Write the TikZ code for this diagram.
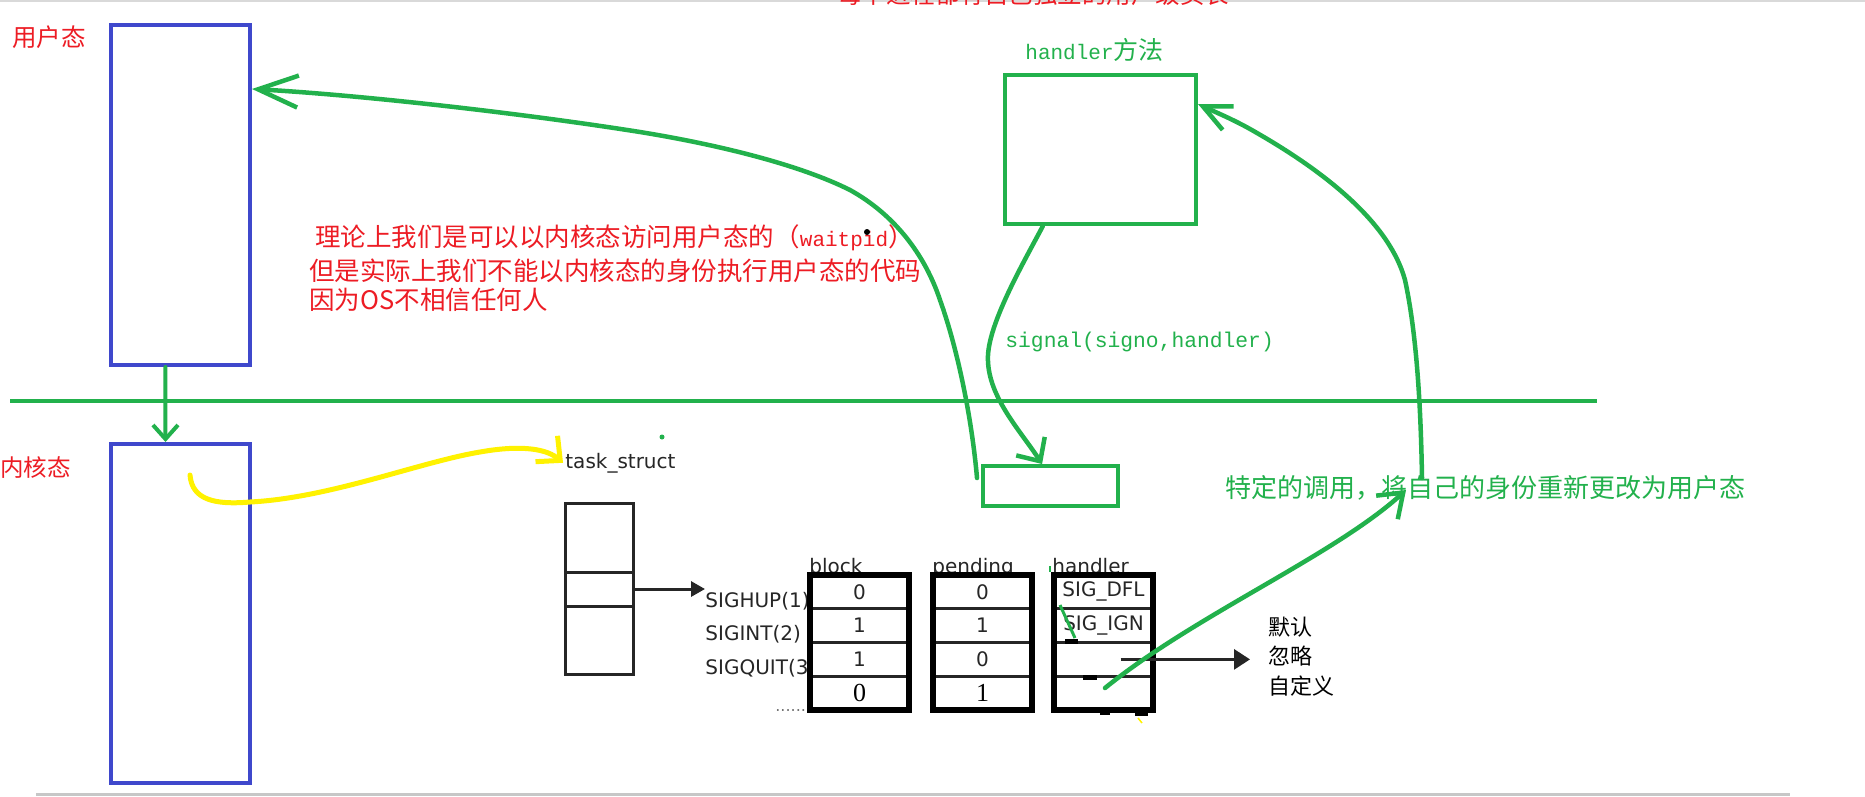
\documentclass[tikz,border=0pt]{standalone}
\usepackage{fontspec}
\setmainfont{DejaVu Sans}
\newfontfamily\cjk{Noto Sans CJK SC}
\newfontfamily\mono{Liberation Mono}
\newfontfamily\tms{Liberation Serif}
\usetikzlibrary{arrows.meta,positioning}

\definecolor{paintgreen}{RGB}{34,177,76}
\definecolor{paintblue}{RGB}{63,72,204}
\definecolor{paintred}{RGB}{237,28,36}
\definecolor{paintyellow}{RGB}{255,242,0}

\begin{document}
\begin{tikzpicture}[x=1pt, y=-1pt, thick]
    % Styles
    \tikzstyle{modebox} = [rectangle, draw=paintblue, line width=4pt, minimum width=139pt, inner sep=0pt]
    \tikzstyle{gbox} = [rectangle, draw=paintgreen, line width=4pt, inner sep=0pt]
    \tikzstyle{redtxt} = [text=paintred, inner sep=0pt, anchor=base west]
    \tikzstyle{greentxt} = [text=paintgreen, inner sep=0pt, anchor=base west]
    \tikzstyle{ostxt} = [text=black!85, inner sep=0pt, anchor=base west, font=\fontsize{20}{24}\selectfont]
    \tikzstyle{cell} = [rectangle, draw=black!85, fill=white, line width=3pt, minimum width=99pt, minimum height=33.75pt, inner sep=0pt, outer sep=0pt, text=black!85, font=\fontsize{20}{24}\selectfont]
    \tikzstyle{lastcell} = [cell, font=\tms\fontsize{26}{30}\selectfont, text=black]
    \tikzstyle{tcell} = [rectangle, draw=black!85, line width=3pt, minimum width=68pt, inner sep=0pt, outer sep=0pt]
    \tikzstyle{frame} = [draw=black, line width=5.5pt]
    \tikzstyle{opt} = [text=black, inner sep=0pt, font=\cjk\fontsize{22}{26}\selectfont, text height=17pt, text depth=3pt]
    \tikzstyle{garrow} = [draw=paintgreen, line width=4.5pt, line cap=round]
    \tikzstyle{yarrow} = [draw=paintyellow, line width=5pt, line cap=round]
    \tikzstyle{karrow} = [draw=black!85, line width=3pt]

    % Screen
    \useasboundingbox (0,0) rectangle (1865,796);
    \fill[white] (0,0) rectangle (1865,796);
    \fill[black!15] (0,0) rectangle (1865,1.5);
    \fill[black!22] (36,793) rectangle (1790,796);

    % Title (cut off at the top)
    \node[redtxt, font=\cjk\fontsize{24.5}{28}\selectfont] (title) at (837,3) {每个进程都有自己独立的用户级页表};

    % User mode and kernel mode
    \node[redtxt, font=\cjk\fontsize{24.5}{28}\selectfont] (ulabel) at (12,46) {用户态};
    \node[modebox, minimum height=340pt] (user) at (180.5,195) {};
    \node[redtxt, font=\cjk\fontsize{23.5}{28}\selectfont] (klabel) at (0,476) {内核态};
    \node[modebox, minimum height=339pt] (kernel) at (180.5,613.5) {};
    \draw[paintgreen, line width=4pt] (10,401) -- (1597,401);
    \draw[garrow, line width=4pt, -{Straight Barb[length=14pt, width=25pt]}] (user.265) -- (kernel.95);

    % Notes
    \node[redtxt, font=\cjk\fontsize{25.5}{30}\selectfont] (note1) at (315,246) {理论上我们是可以以内核态访问用户态的（{\mono\fontsize{21}{24}\selectfont waitpid}）};
    \node[redtxt, font=\cjk\fontsize{25.5}{30}\selectfont] (note2) at (309,280) {但是实际上我们不能以内核态的身份执行用户态的代码};
    \node[redtxt, font=\cjk\fontsize{25.5}{30}\selectfont] (note3) at (309,309) {因为OS不相信任何人};
    \fill[black] (867,232) circle (3pt);
    \fill[paintgreen] (662,437) circle (2.5pt);

    % Handler in user mode
    \node[greentxt, font=\cjk\fontsize{25}{28}\selectfont] (hlabel) at (1025,59) {{\mono\fontsize{21}{24}\selectfont handler}方法};
    \node[gbox, minimum width=191pt, minimum height=149pt] (hbox) at (1100.5,149.5) {};
    \node[greentxt, font=\mono\fontsize{21.3}{24}\selectfont] (signal) at (1005,347) {signal(signo,handler)};
    \node[gbox, minimum width=135pt, minimum height=40pt] (sbox) at (1050.5,486) {};
    \node[greentxt, font=\cjk\fontsize{26}{30}\selectfont] (back) at (1225,497) {特定的调用，将自己的身份重新更改为用户态};

    % task_struct
    \node[ostxt, inner sep=2pt] (ts) at (563,468) {task\_struct};
    \node[tcell, minimum height=68.5pt] (t1) at (599.5,537.75) {};
    \node[tcell, minimum height=34pt, below=0pt of t1] (t2) {};
    \node[tcell, minimum height=68.5pt, below=0pt of t2] (t3) {};

    % Signal table
    \node[ostxt] (s1) at (705,607) {SIGHUP(1)};
    \node[ostxt] (s2) at (705,640) {SIGINT(2)};
    \node[ostxt] (s3) at (705,674) {SIGQUIT(3)};
    \node[ostxt, text=black!55, font=\fontsize{16}{18}\selectfont] (dots) at (775,711) {......};
    \node[ostxt] (hblock) at (809,573) {block};
    \node[ostxt] (hpend) at (932,573) {pending};
    \node[ostxt] (hhand) at (1052,573) {handler};

    \node[cell] (b1) at (859.5,591.875) {0};
    \node[cell, below=0pt of b1] (b2) {1};
    \node[cell, below=0pt of b2] (b3) {1};
    \node[lastcell, below=0pt of b3] (b4) {0};
    \node[cell] (p1) at (982.5,591.875) {0};
    \node[cell, below=0pt of p1] (p2) {1};
    \node[cell, below=0pt of p2] (p3) {0};
    \node[lastcell, below=0pt of p3] (p4) {1};
    \node[cell] (h1) at (1103.5,591.875) {SIG\_DFL};
    \node[cell, below=0pt of h1] (h2) {SIG\_IGN};
    \node[cell, below=0pt of h2] (h3) {};
    \node[cell, below=0pt of h3] (h4) {};
    \node[ostxt, text=black!55, font=\fontsize{14}{16}\selectfont] (pdots) at (966,710) {......};

    \draw[frame] (b1.north west) rectangle (b4.south east);
    \draw[frame] (p1.north west) rectangle (p4.south east);
    \draw[frame] (h1.north west) rectangle (h4.south east);

    % Marks in the handler column
    \draw[paintgreen, line width=3pt] (1060,605) -- (1075,638);
    \draw[paintgreen, line width=2pt] (1050,566) -- (1050,572);
    \fill[black] (1065,639) rectangle (1078,644);
    \fill[black] (1083,675) rectangle (1097,680);
    \fill[black] (1100,709) rectangle (1110,715);
    \fill[black] (1135,709) rectangle (1148,716);
    \draw[paintyellow, line width=1.5pt] (1138,718) -- (1142,723);

    % Handler choices
    \node[opt, anchor=west] (dft) at (1268,628) {默认};
    \node[opt, below=9pt of dft.south west, anchor=north west] (ign) {忽略};
    \node[opt, below=9pt of ign.south west, anchor=north west] (cust) {自定义};

    % Connections
    \draw[karrow, -{Triangle[length=14pt, width=15pt]}] (t2.east) -- (t2.east -| s1.west);
    \draw[karrow, -{Triangle[length=16pt, width=20pt]}, shorten >=18pt] ([xshift=17pt]h3.center) -- (h3.center -| ign.west);

    \coordinate (ystart) at (190,475);
    \draw[yarrow, -{Straight Barb[length=18pt, width=34pt]}] (ystart) .. controls (192,500) and (215,505) .. (250,502) .. controls (330,498) and (420,462) .. (480,452) .. controls (525,444) and (548,450) .. (ts.west);

    \coordinate (cstart) at (977,478);
    \draw[garrow, -{Straight Barb[length=40pt, width=32pt]}] (cstart) .. controls (972,420) and (958,350) .. (940,300) .. controls (925,255) and (895,215) .. (850,190) .. controls (800,165) and (720,145) .. (640,132) .. controls (520,113) and (360,95) .. (user.56);

    \draw[garrow, -{Straight Barb[length=18pt, width=34pt]}] (hbox.233) .. controls (1025,260) and (990,320) .. (988,355) .. controls (986,395) and (1020,430) .. (sbox.111);

    \coordinate (rstart) at (1422,478);
    \draw[garrow, -{Straight Barb[length=28pt, width=26pt]}] (rstart) .. controls (1421,420) and (1418,340) .. (1405,280) .. controls (1390,225) and (1330,175) .. (1257,133) .. controls (1235,120) and (1215,112) .. (hbox.25);

    \coordinate (hstart) at (1105,688);
    \coordinate (htip) at (1406,490);
    \draw[garrow, -{Straight Barb[length=22pt, width=32pt]}] (hstart) .. controls (1195,615) and (1335,555) .. (htip);

\end{tikzpicture}
\end{document}
